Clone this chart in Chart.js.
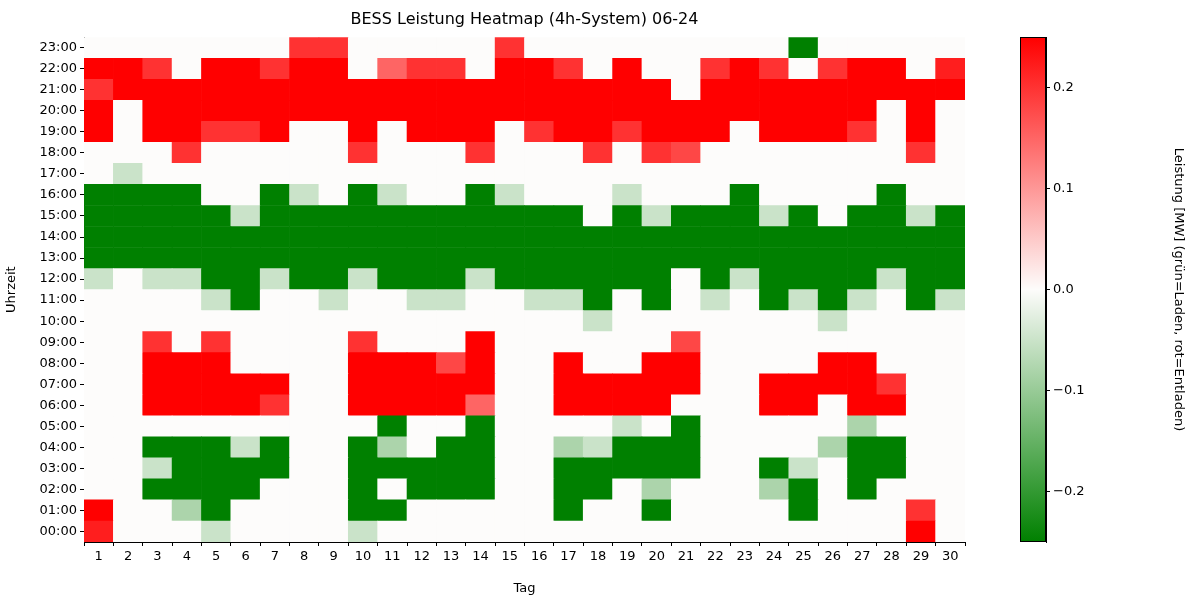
<!DOCTYPE html>
<html>
<head>
<meta charset="utf-8">
<script src="https://cdn.jsdelivr.net/npm/chart.js@4"></script>
<style>
  body { margin: 0; background: #fff; }
  #main { position: absolute; left: 0; top: 0; width: 975px; height: 600px; }
  #bar { position: absolute; left: 1020px; top: 0; width: 180px; height: 600px; }
</style>
</head>
<body>
<div id="main"><canvas id="heat"></canvas></div>
<div id="bar"><canvas id="cbar"></canvas></div>
<script>
// data: one array per hour, 30 days each (MW, + = Entladen, - = Laden)
var days = ['1','2','3','4','5','6','7','8','9','10','11','12','13','14','15','16','17','18','19','20','21','22','23','24','25','26','27','28','29','30']
var hourLabels = ['00:00','01:00','02:00','03:00','04:00','05:00','06:00','07:00','08:00','09:00','10:00','11:00','12:00','13:00','14:00','15:00','16:00','17:00','18:00','19:00','20:00','21:00','22:00','23:00']
var cbarTicks = [-0.2, -0.1, 0, 0.1, 0.2]

var h00 = [.22,0,0,0,-.05, 0,0,0,0,-.05, 0,0,0,0,0, 0,0,0,0,0, 0,0,0,0,0, 0,0,0,.25,0]
var h01 = [.25,0,0,-.08,-.25, 0,0,0,0,-.25, -.25,0,0,0,0, 0,-.25,0,0,-.25, 0,0,0,0,-.25, 0,0,0,.2,0]
var h02 = [0,0,-.25,-.25,-.25, -.25,0,0,0,-.25, 0,-.25,-.25,-.25,0, 0,-.25,-.25,0,-.08, 0,0,0,-.08,-.25, 0,-.25,0,0,0]
var h03 = [0,0,-.05,-.25,-.25, -.25,-.25,0,0,-.25, -.25,-.25,-.25,-.25,0, 0,-.25,-.25,-.25,-.25, -.25,0,0,-.25,-.05, 0,-.25,-.25,0,0]
var h04 = [0,0,-.25,-.25,-.25, -.05,-.25,0,0,-.25, -.08,0,-.25,-.25,0, 0,-.08,-.05,-.25,-.25, -.25,0,0,0,0, -.08,-.25,-.25,0,0]
var h05 = [0,0,0,0,0, 0,0,0,0,0, -.25,0,0,-.25,0, 0,0,0,-.05,0, -.25,0,0,0,0, 0,-.08,0,0,0]
var h06 = [0,0,.25,.25,.25, .25,.2,0,0,.25, .25,.25,.25,.15,0, 0,.25,.25,.25,.25, 0,0,0,.25,.25, 0,.25,.25,0,0]
var h07 = [0,0,.25,.25,.25, .25,.25,0,0,.25, .25,.25,.25,.25,0, 0,.25,.25,.25,.25, .25,0,0,.25,.25, .25,.25,.2,0,0]
var h08 = [0,0,.25,.25,.25, 0,0,0,0,.25, .25,.25,.18,.25,0, 0,.25,0,0,.25, .25,0,0,0,0, .25,.25,0,0,0]
var h09 = [0,0,.2,0,.2, 0,0,0,0,.2, 0,0,0,.25,0, 0,0,0,0,0, .18,0,0,0,0, 0,0,0,0,0]
var h10 = [0,0,0,0,0, 0,0,0,0,0, 0,0,0,0,0, 0,0,-.05,0,0, 0,0,0,0,0, -.05,0,0,0,0]
var h11 = [0,0,0,0,-.05, -.25,0,0,-.05,0, 0,-.05,-.05,0,0, -.05,-.05,-.25,0,-.25, 0,-.05,0,-.25,-.05, -.25,-.05,0,-.25,-.05]
var h12 = [-.05,0,-.05,-.05,-.25, -.25,-.05,-.25,-.25,-.05, -.25,-.25,-.25,-.05,-.25, -.25,-.25,-.25,-.25,-.25, 0,-.25,-.05,-.25,-.25, -.25,-.25,-.05,-.25,-.25]
var h13 = [-.25,-.25,-.25,-.25,-.25, -.25,-.25,-.25,-.25,-.25, -.25,-.25,-.25,-.25,-.25, -.25,-.25,-.25,-.25,-.25, -.25,-.25,-.25,-.25,-.25, -.25,-.25,-.25,-.25,-.25]
var h14 = [-.25,-.25,-.25,-.25,-.25, -.25,-.25,-.25,-.25,-.25, -.25,-.25,-.25,-.25,-.25, -.25,-.25,-.25,-.25,-.25, -.25,-.25,-.25,-.25,-.25, -.25,-.25,-.25,-.25,-.25]
var h15 = [-.25,-.25,-.25,-.25,-.25, -.05,-.25,-.25,-.25,-.25, -.25,-.25,-.25,-.25,-.25, -.25,-.25,0,-.25,-.05, -.25,-.25,-.25,-.05,-.25, 0,-.25,-.25,-.05,-.25]
var h16 = [-.25,-.25,-.25,-.25,0, 0,-.25,-.05,0,-.25, -.05,0,0,-.25,-.05, 0,0,0,-.05,0, 0,0,-.25,0,0, 0,0,-.25,0,0]
var h17 = [0,-.05,0,0,0, 0,0,0,0,0, 0,0,0,0,0, 0,0,0,0,0, 0,0,0,0,0, 0,0,0,0,0]
var h18 = [0,0,0,.2,0, 0,0,0,0,.2, 0,0,0,.2,0, 0,0,.2,0,.2, .18,0,0,0,0, 0,0,0,.2,0]
var h19 = [.25,0,.25,.25,.2, .2,.25,0,0,.25, 0,.25,.25,.25,0, .2,.25,.25,.2,.25, .25,.25,0,.25,.25, .25,.2,0,.25,0]
var h20 = [.25,0,.25,.25,.25, .25,.25,.25,.25,.25, .25,.25,.25,.25,.25, .25,.25,.25,.25,.25, .25,.25,.25,.25,.25, .25,.25,0,.25,0]
var h21 = [.2,.25,.25,.25,.25, .25,.25,.25,.25,.25, .25,.25,.25,.25,.25, .25,.25,.25,.25,.25, 0,.25,.25,.25,.25, .25,.25,.25,.25,.25]
var h22 = [.25,.25,.2,0,.25, .25,.2,.25,.25,0, .15,.2,.2,0,.25, .25,.2,0,.25,0, 0,.2,.25,.2,0, .2,.25,.25,0,.22]
var h23 = [0,0,0,0,0, 0,0,.2,.2,0, 0,0,0,0,.2, 0,0,0,0,0, 0,0,0,0,-.25, 0,0,0,0,0]

var rows = [h00,h01,h02,h03,h04,h05,h06,h07,h08,h09,h10,h11,h12,h13,h14,h15,h16,h17,h18,h19,h20,h21,h22,h23]

var font = { family: 'DejaVu Sans', size: 13 }
Chart.defaults.color = '#000'
Chart.defaults.animation = false

function cmap(v){ // green -> white -> red, vmin -0.25, vmax 0.25
  var t = Math.min(Math.abs(v) / 0.25, 1)
  var w = [253, 252, 251]
  var end = v >= 0 ? [255, 0, 0] : [0, 128, 0]
  var c = w.map(function(x, i){ return Math.round(x + (end[i] - x) * t) })
  return 'rgb(' + c.join(',') + ')'
}

var datasets = rows.map(function(row, h){
  return {
    data: row.map(function(){ return [h, h + 1] }),
    backgroundColor: row.map(cmap),
    borderWidth: 0,
    barPercentage: 1,
    categoryPercentage: 1
  }
})

var heat = new Chart(document.getElementById('heat'), {
  type: 'bar',
  data: { labels: days, datasets: datasets },
  options: {
    responsive: true,
    maintainAspectRatio: false,
    layout: { padding: { right: 10 } },
    plugins: {
      legend: { display: false },
      tooltip: { enabled: false },
      title: {
        display: true, fullSize: false,
        text: 'BESS Leistung Heatmap (4h-System) 06-24',
        font: { family: 'DejaVu Sans', size: 16, weight: 'normal' },
        padding: { top: 10, bottom: 8 }
      }
    },
    scales: {
      x: {
        stacked: true,
        grid: { drawOnChartArea: false, tickLength: 4, color: '#000' },
        border: { color: '#000' },
        ticks: { font: font, maxRotation: 0, autoSkip: false },
        title: { display: true, text: 'Tag', font: font, padding: { top: 2 } },
        afterFit: function(s){ s.height = 58 }
      },
      y: {
        min: 0, max: 24,
        grid: { drawOnChartArea: false, tickLength: 4, color: '#000' },
        border: { color: '#000' },
        afterBuildTicks: function(s){ s.ticks = hourLabels.map(function(_, i){ return { value: i + 0.5 } }) },
        ticks: { font: font, autoSkip: false, callback: function(v, i){ return hourLabels[i] } },
        title: { display: true, text: 'Uhrzeit', font: font, padding: 4 },
        afterFit: function(s){ s.width = 84 }
      }
    }
  }
})

var cbar = new Chart(document.getElementById('cbar'), {
  type: 'bar',
  data: {
    labels: [''],
    datasets: [{
      data: [[-0.25, 0.25]],
      borderWidth: 0, barPercentage: 1, categoryPercentage: 1,
      backgroundColor: function(ctx){
        var a = ctx.chart.chartArea
        if (!a) return '#fff'
        var g = ctx.chart.ctx.createLinearGradient(0, a.bottom, 0, a.top)
        g.addColorStop(0, cmap(-0.25))
        g.addColorStop(0.5, cmap(0))
        g.addColorStop(1, cmap(0.25))
        return g
      }
    }]
  },
  options: {
    responsive: true,
    maintainAspectRatio: false,
    layout: { padding: { top: 37, bottom: 58 } },
    plugins: { legend: { display: false }, tooltip: { enabled: false } },
    scales: {
      x: { display: false },
      y: {
        position: 'right',
        min: -0.25, max: 0.25,
        grid: { drawOnChartArea: false, tickLength: 4, color: '#000' },
        border: { color: '#000' },
        afterBuildTicks: function(s){ s.ticks = cbarTicks.map(function(v){ return { value: v } }) },
        ticks: { font: font, callback: function(v){ return (v < 0 ? '\u2212' : '') + Math.abs(v).toFixed(1) } },
        title: { display: true, text: 'Leistung [MW] (grün=Laden, rot=Entladen)', font: font, padding: { top: 14 } },
        afterFit: function(s){ s.width = 154 }
      }
    }
  },
  plugins: [{
    id: 'frame',
    afterDraw: function(chart){
      var a = chart.chartArea, c = chart.ctx
      c.save(); c.strokeStyle = '#000'; c.lineWidth = 1
      c.strokeRect(a.left + 0.5, a.top + 0.5, a.width - 1, a.height - 1)
      c.restore()
    }
  }]
})
</script>
</body>
</html>
